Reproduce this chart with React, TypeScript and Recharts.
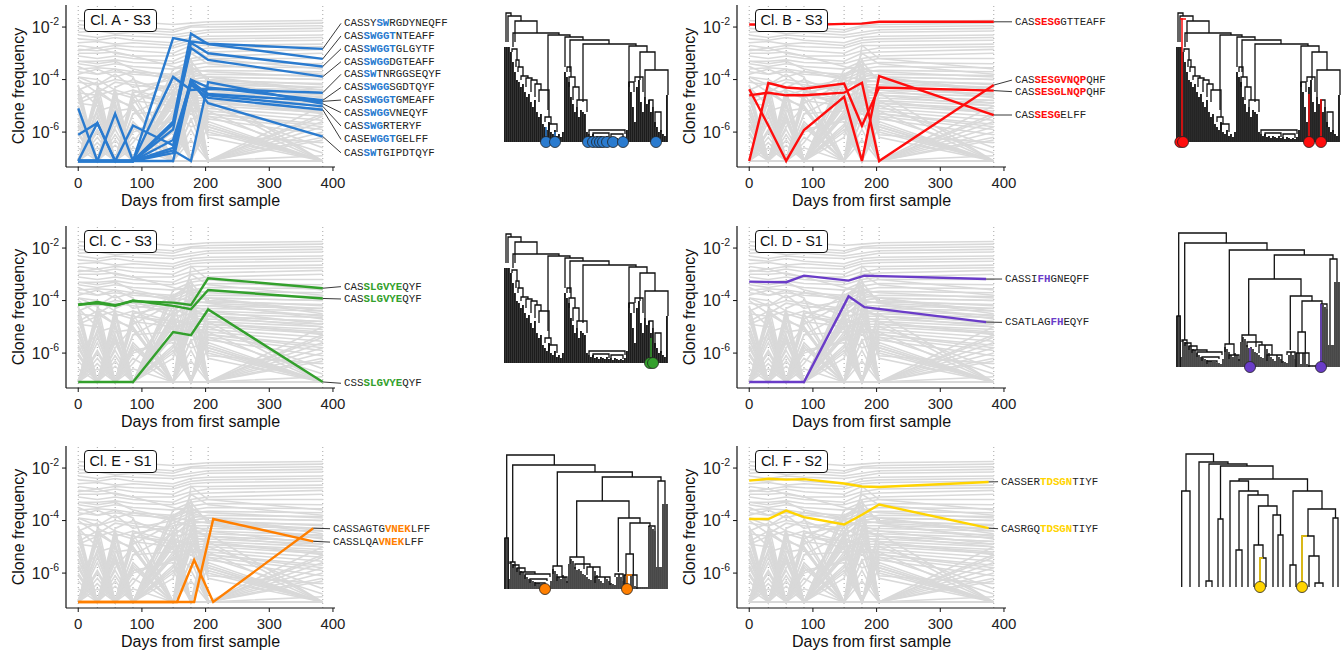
import {
  Bar,
  ComposedChart,
  Line,
  LineChart,
  ReferenceDot,
  ReferenceLine,
  Scatter,
  XAxis,
  YAxis,
} from "recharts";

const FONT = '"Liberation Sans", Arial, Helvetica, sans-serif';
const MONO = '"Liberation Mono", "DejaVu Sans Mono", monospace';

// sampling days used by the background repertoire
const sampleDays = [0, 30, 58, 86, 149, 177, 204, 384];
const xTicks = [0, 100, 200, 300, 400];
const yTicks = [-6, -4, -2];

// log10 clone frequency, F = below detection
const F = -7.1;

const backgroundClones = [
  [-1.75, -1.8, -1.75, -1.8, -1.9, -1.85, -1.8, -1.75],
  [-1.9, -2.0, -1.95, -2.0, -2.1, -1.95, -1.9, -1.85],
  [-2.05, -2.1, -2.0, -2.1, -2.2, -2.0, -2.0, -1.95],
  [-2.2, -2.15, -2.25, -2.2, -2.3, -2.2, -2.1, -2.05],
  [-2.3, -2.4, -2.3, -2.35, -2.4, -2.3, -2.2, -2.15],
  [-2.45, -2.5, -2.4, -2.5, -2.6, -2.4, -2.35, -2.3],
  [-2.6, -2.55, -2.65, -2.6, -2.7, -2.5, -2.45, -2.4],
  [-2.7, -2.8, -2.7, -2.75, -2.8, -2.6, -2.55, -2.5],
  [-2.85, -2.9, -2.8, -2.9, -3.0, -2.7, -2.7, -2.65],
  [-3.0, -3.0, -2.95, -3.1, -3.1, -2.9, -2.8, -2.75],
  [-3.1, -3.2, -3.1, -3.2, -3.3, -3.0, -2.95, -2.85],
  [-3.3, -3.3, -3.25, -3.35, -3.4, -3.2, -3.1, -3.0],
  [-3.4, -3.5, -3.4, -3.5, -3.6, -3.3, -3.2, -3.2],
  [-3.6, -3.55, -3.6, -3.7, -3.8, -3.45, -3.35, -3.4],
  [-3.7, -3.8, -3.7, -3.8, -3.9, -3.6, -3.5, -3.55],
  [-3.9, -4.2, -3.8, -4.3, -4.0, -3.7, -3.65, -3.7],
  [-4.0, -4.5, -4.1, -4.2, -4.4, -3.9, -3.8, -3.85],
  [-4.2, F, -4.3, -4.0, -4.6, -4.0, -3.9, -4.0],
  [-4.4, -4.1, F, -4.5, -4.2, -4.1, -4.05, -4.15],
  [-4.5, -4.6, -4.4, F, -4.5, -4.2, -4.2, -4.3],
  [F, -4.3, -4.6, -4.4, -4.8, -4.3, -4.3, -4.4],
  [-4.7, F, -4.5, -4.7, F, -4.4, -4.4, -4.55],
  [-4.8, -4.4, -4.9, F, -4.6, -4.5, -4.5, -4.65],
  [F, -4.7, F, -4.6, -4.9, -4.6, -4.6, -4.8],
  [-5.0, F, -4.8, -5.0, F, -4.7, -4.7, -4.9],
  [-4.9, -5.0, F, -4.8, -5.0, -4.8, -4.8, -5.0],
  [F, -5.2, -5.0, F, -4.7, -4.9, -4.9, -5.1],
  [-5.3, F, -5.2, -5.1, F, -5.0, -5.0, -5.25],
  [F, -5.4, F, -5.3, -5.2, -5.1, -5.1, -5.4],
  [-5.5, F, -5.3, F, -5.4, -5.2, -5.2, -5.55],
  [-5.8, F, -5.6, F, -5.9, F, -5.3, -5.7],
  [F, -5.9, F, -5.7, F, -5.5, -5.4, -5.9],
  [-6.0, F, F, -5.9, -5.6, F, -5.5, -6.1],
  [F, F, -6.1, F, -5.2, -5.8, -5.6, F],
  [F, -6.2, F, F, -4.9, -5.3, -5.7, F],
  [-6.3, F, -5.9, F, F, -4.8, -5.8, F],
  [F, F, F, -6.0, -5.5, -4.6, -5.9, F],
  [F, -5.6, F, -6.2, F, -5.0, -6.0, F],
  [-5.7, F, F, F, -6.0, -4.4, -6.1, -6.4],
  [F, F, -5.5, F, F, -4.2, -6.2, F],
  [F, F, F, F, -6.2, -3.9, F, -5.0],
  [F, -6.0, F, F, F, -3.6, F, -5.4],
  [F, F, F, -5.8, F, -3.4, F, -5.8],
  [F, F, -6.3, F, -5.8, -3.2, F, -6.2],
  [-6.1, F, F, F, F, F, F, -5.6],
  [F, F, F, F, -4.8, F, -4.5, F],
  [F, -6.4, F, F, -5.0, F, -4.8, F],
  [F, F, F, F, -4.6, F, -5.0, -6.6],
  [F, F, F, -6.4, -4.4, F, -5.2, F],
  [F, F, F, F, -5.4, F, -5.4, -6.8],
  [-4.6, F, -5.0, F, -4.2, -4.0, -3.9, -4.5],
  [F, -4.8, F, -4.9, -4.1, -3.8, -3.9, -4.0],
  [-4.3, -5.0, F, -4.7, -3.8, -3.6, -3.7, -3.9],
  [F, -4.5, -4.9, F, -3.6, -3.5, -4.0, -4.2],
  [-5.2, F, -4.4, F, -3.8, F, -4.2, -4.6],
  [F, F, -4.7, -5.1, F, -4.3, -4.6, -4.8],
  [-4.9, -4.6, F, -4.4, -5.1, F, -4.9, -5.2],
  [F, F, F, F, F, F, F, -5.3],
  [F, F, F, F, F, F, F, -6.0],
  [F, F, F, F, -3.9, -3.3, -4.1, -4.3],
  [-2.9, -2.8, -3.0, -3.1, -3.5, -3.7, -3.9, -4.4],
  [-3.5, -3.8, -3.6, -3.9, F, -4.4, -4.6, -5.0],
  [-5.5, F, F, F, F, -2.7, -3.2, -3.6],
  [F, F, F, -5.3, -4.5, -3.0, -3.4, -3.8],
  [F, -6.6, F, F, F, F, -5.8, F],
  [F, F, -6.5, F, F, -6.3, F, F],
  [-6.6, F, F, -6.6, F, F, F, F],
  [F, F, F, F, F, -5.9, F, -6.9],
  [-4.1, -4.2, -4.0, -4.1, -4.3, -4.6, -4.8, -5.3],
  [-3.8, -3.6, -3.9, -3.7, -4.0, -4.2, -4.4, -4.9],
  [-5.0, F, -5.4, F, F, F, F, F],
  [F, -5.1, F, -5.6, F, F, F, F],
  [-5.9, -5.3, F, F, F, -5.5, F, F],
  [F, F, -5.8, -5.0, F, F, F, F],
  [-4.4, F, F, F, -5.7, F, F, F],
  [F, -4.4, F, F, F, -5.1, F, -6.3],
  [F, F, -4.6, F, -5.3, -4.5, F, F],
  [F, F, F, -4.5, F, -4.9, F, F],
  [-3.9, -4.0, -4.4, -4.6, -4.8, -4.9, -5.3, -5.8],
  [-3.3, -3.4, -3.3, -3.6, -3.9, -4.0, -4.1, -4.7],
];

// Cl. A - S3
const cloneASeqs = [
  "CASSYSWRGDYNEQFF", "CASSWGGTNTEAFF", "CASSWGGTGLGYTF", "CASSWGGDGTEAFF",
  "CASSWTNRGGSEQYF", "CASSWGGSGDTQYF", "CASSWGGTGMEAFF", "CASSWGGVNEQYF",
  "CASSWGRTERYF", "CASEWGGTGELFF", "CASSWTGIPDTQYF",
];
const cloneAMotifs = ["SW", "SWGGT", "SWGGT", "SWGG", "SW", "SWGG", "SWGGT", "SWGG", "SWG", "WGGT", "SW"];
const cloneAFreqs = [
  [F, F, F, F, -2.42, -2.55, -2.63, -2.83],
  [F, F, F, F, -5.6, -2.25, -2.65, -3.21],
  [F, F, F, F, -5.9, -2.6, -3.0, -3.5],
  [F, F, F, F, -5.7, -2.8, -3.25, -3.89],
  [F, F, F, F, -3.9, -4.4, -4.35, -4.5],
  [-5.1, F, F, -5.75, -6.5, -4.0, -4.3, -4.79],
  [F, F, F, F, -6.3, -4.1, -4.55, -4.83],
  [F, F, -5.3, F, -6.7, F, -4.1, -4.92],
  [-6.1, -5.65, F, F, -6.8, -4.05, -4.6, -5.02],
  [F, F, F, F, -6.6, -4.2, -4.7, -5.15],
  [F, -5.65, F, F, F, -4.05, -4.9, -6.17],
];
const cloneASlots = [-1.86, -2.34, -2.83, -3.32, -3.8, -4.3, -4.78, -5.26, -5.77, -6.28, -6.79];

// Cl. B - S3
const cloneBSeqs = ["CASSESGGTTEAFF", "CASSESGVNQPQHF", "CASSESGLNQPQHF", "CASSESGELFF"];
const cloneBMotifs = ["SESG", "SESGVNQP", "SESGLNQP", "SESG"];
const cloneBFreqs = [
  [-1.9, -1.9, -1.95, -1.92, -1.88, -1.87, -1.8, -1.8],
  [-4.6, -4.5, -4.6, -4.6, -4.5, -4.12, F, -4.21],
  [F, -4.13, -4.3, -4.35, -4.15, -5.76, -4.3, -4.42],
  [-4.37, -5.75, F, -5.92, -4.66, F, -3.87, -5.35],
];
const cloneBSlots = [-1.8, -4.02, -4.46, -5.35];

// Cl. C - S3
const cloneCSeqs = ["CASSLGVYEQYF", "CASSLGVYEQYF", "CSSSLGVYEQYF"];
const cloneCMotifs = ["SLGVYE", "SLGVYE", "SLGVYE"];
const cloneCFreqs = [
  [-4.17, -4.05, -4.18, -4.02, -4.08, -4.17, -3.15, -3.53],
  [-4.15, -4.1, -4.2, -4.0, -4.2, -4.33, -3.6, -3.92],
  [F, F, F, F, -5.2, -5.32, -4.34, F],
];
const cloneCSlots = [-3.47, -3.94, -7.15];

// Cl. D - S1
const cloneDSeqs = ["CASSIFHGNEQFF", "CSATLAGFHEQYF"];
const cloneDMotifs = ["FH", "FH"];
const cloneDDays = [0, 58, 86, 156, 181, 372];
const cloneDFreqs = [
  [-3.28, -3.3, -3.05, -3.24, -3.05, -3.18],
  [F, F, F, -3.84, -4.25, -4.82],
];
const cloneDSlots = [-3.18, -4.83];

// Cl. E - S1
const cloneESeqs = ["CASSAGTGVNEKLFF", "CASSLQAVNEKLFF"];
const cloneEMotifs = ["VNEK", "VNEK"];
const cloneEDays = [0, 155, 182, 212, 369];
const cloneEFreqs = [
  [F, F, -5.5, F, -4.29],
  [F, F, F, -3.94, -4.79],
];
const cloneESlots = [-4.31, -4.82];

// Cl. F - S2
const cloneFSeqs = ["CASSERTDSGNTIYF", "CASRGQTDSGNTIYF"];
const cloneFMotifs = ["TDSGN", "TDSGN"];
const cloneFDays = [0, 30, 58, 86, 149, 177, 204, 376];
const cloneFFreqs = [
  [-2.48, -2.41, -2.44, -2.42, -2.59, -2.7, -2.72, -2.53],
  [-3.94, -3.94, -3.62, -3.87, -4.15, -3.78, -3.39, -4.29],
];
const cloneFSlots = [-2.52, -4.31];

// dendrograms: leaf stem heights (one leaf every 2 units) and merges [xLeft, xRight, height, leftChild, rightChild]
const treeS3Leaves = [
  95, 95, 95, 90, 80, 70, 62, 60, 55, 58, 50, 45, 48, 40, 35, 42, 30, 25, 28, 18,
  15, 12, 20, 10, 8, 12, 6, 8, 5, 10, 70, 65, 60, 45, 38, 30, 35, 25, 32, 30,
  28, 10, 8, 6, 8, 5, 6, 4, 6, 5, 4, 6, 4, 5, 3, 5, 4, 3, 4, 3,
  5, 12, 60, 50, 35, 20, 55, 62, 40, 30, 45, 38, 42, 30, 35, 20, 15, 10, 12, 8,
  6, 47,
];
const treeS3Links = [
  [1, 6, 129, 100, 126], [3, 16, 126, 100, 121], [10, 32, 121, 100, 109],
  [8, 54, 109, 95, 107], [43, 65, 107, 32, 105], [60, 78, 105, 75, 102],
  [65, 104, 102, 70, 98], [78, 131, 98, 40, 96], [124, 142, 96, 60, 90],
  [135, 150, 90, 62, 72], [140, 163, 72, 45, 47], [144, 148, 42, 38, 35],
  [150, 156, 30, 15, 10], [7, 12, 93, 90, 82], [11, 14, 82, 75, 75],
  [13, 18, 75, 70, 66], [16, 23, 66, 62, 64], [21, 27, 64, 55, 62],
  [26, 32, 62, 50, 58], [30, 36, 58, 45, 52], [34, 44, 52, 40, 25],
  [40, 46, 25, 20, 18], [44, 52, 18, 12, 10], [62, 66, 75, 70, 65],
  [64, 70, 65, 55, 55], [68, 74, 55, 42, 42], [72, 82, 42, 35, 30],
  [84, 120, 12, 8, 8], [88, 104, 9, 6, 5], [106, 118, 8, 5, 4],
  [124, 129, 60, 55, 50], [130, 138, 65, 60, 50],
];

const treeS1Leaves = [
  51, 51, 10, 27, 25, 24, 21, 20, 18, 17, 14, 12, 10, 9, 8, 7, 6, 6, 5, 5,
  4, 4, 3, 8, 20, 18, 15, 12, 10, 14, 12, 8, 25, 30, 28, 22, 19, 20, 18, 15,
  14, 12, 10, 9, 22, 18, 14, 10, 8, 6, 12, 10, 8, 6, 5, 4, 12, 15, 12, 8,
  14, 14, 3, 14, 14, 3, 2, 2, 2, 2, 2, 2, 63, 62, 60, 58, 22, 22, 22, 85,
  85, 85,
];
const treeS1Links = [
  [1.7, 49.3, 134, 51, 124], [0, 3.3, 51, 0, 0], [7.7, 90, 124, 27, 117],
  [52.3, 127.3, 117, 23, 112], [97.3, 156, 112, 88, 108], [153, 160, 108, 22, 85],
  [71.7, 124, 88, 32, 71], [113.3, 135, 71, 17, 66], [125, 145, 66, 35, 63],
  [121, 128.3, 35, 14, 14], [119, 132, 14, 0, 0], [5, 10, 27, 25, 24],
  [8, 14, 24, 21, 20], [12, 20, 21, 17, 17], [15, 30, 17, 14, 15],
  [20, 45, 15, 10, 12], [25, 42, 10, 6, 8], [30, 40, 6, 3, 4],
  [48, 57, 23, 15, 12], [52, 62, 12, 8, 6], [65, 79, 32, 25, 20],
  [70, 85, 25, 20, 22], [82, 95, 22, 14, 12], [90, 105, 12, 6, 4],
  [110, 118, 15, 12, 8], [144, 150, 63, 62, 58],
];

const treeS2Leaves: number[] = [];
const treeS2Links = [
  [5, 32.5, 133, 96, 125], [0.7, 9, 96, 0, 0], [18, 47, 125, 0, 123],
  [28, 66, 123, 6, 121], [25, 31, 6, 0, 0], [39.5, 92, 121, 68, 108],
  [37, 42, 68, 0, 0], [58, 126.5, 108, 106, 96], [49, 67.5, 106, 0, 96],
  [58, 77, 96, 37, 92], [55, 61, 37, 0, 0], [67, 87, 92, 0, 81],
  [77.5, 96, 81, 42, 72], [73, 82, 42, 0, 29], [79, 85, 29, 0, 0],
  [92, 99.5, 72, 0, 52], [97, 102, 52, 0, 0], [112, 141, 96, 22, 78],
  [109, 115, 22, 0, 0], [127, 154.5, 78, 51, 69], [121, 133, 51, 0, 31],
  [128, 138, 31, 0, 4], [134, 142, 4, 0, 0], [152, 157, 69, 0, 0],
];

// highlighted tips and the branches leading to them
const tipsA = [41, 50, 83, 88, 92, 95, 98, 102, 108, 118, 151];
const stemsA = [[[41, 0], [41, 15]], [[50, 0], [50, 10]]];
const tipsB = [3.3, 6, 132, 144];
const stemsB = [[[5, 0], [5, 124]], [[3, 123], [9, 123]], [[132, 0], [132, 48]], [[144, 0], [144, 43]]];
const tipsC = [145, 148];
const stemsC = [[[146, 0], [146, 25]]];
const tipsD = [73, 144];
const stemsD = [[[73, 0], [73, 19]], [[144, 0], [144, 63]]];
const tipsE = [40, 122];
const stemsE = [[[122, 0], [122, 14], [127, 14]]];
const tipsF = [79, 121];
const stemsF = [[[79, 0], [79, 29], [82, 29]], [[121, 0], [121, 51], [126, 51]]];

const panels = [
  { name: "Cl. A - S3", color: "#2a7bcf", left: 0, top: 0, seqs: cloneASeqs, motifs: cloneAMotifs,
    days: cloneAFreqs.map(() => sampleDays), freqs: cloneAFreqs, slots: cloneASlots, slotDay: 412.6 },
  { name: "Cl. B - S3", color: "#ff0d0d", left: 671, top: 0, seqs: cloneBSeqs, motifs: cloneBMotifs,
    days: cloneBFreqs.map(() => sampleDays), freqs: cloneBFreqs, slots: cloneBSlots, slotDay: 412.6 },
  { name: "Cl. C - S3", color: "#33a02c", left: 0, top: 220.5, seqs: cloneCSeqs, motifs: cloneCMotifs,
    days: cloneCFreqs.map(() => sampleDays), freqs: cloneCFreqs, slots: cloneCSlots, slotDay: 412.6 },
  { name: "Cl. D - S1", color: "#6a3cc8", left: 671, top: 220.5, seqs: cloneDSeqs, motifs: cloneDMotifs,
    days: cloneDFreqs.map(() => cloneDDays), freqs: cloneDFreqs, slots: cloneDSlots, slotDay: 397 },
  { name: "Cl. E - S1", color: "#ff7f00", left: 0, top: 441, seqs: cloneESeqs, motifs: cloneEMotifs,
    days: cloneEFreqs.map(() => cloneEDays), freqs: cloneEFreqs, slots: cloneESlots, slotDay: 395.4 },
  { name: "Cl. F - S2", color: "#ffd400", left: 671, top: 441, seqs: cloneFSeqs, motifs: cloneFMotifs,
    days: cloneFFreqs.map(() => cloneFDays), freqs: cloneFFreqs, slots: cloneFSlots, slotDay: 390.7 },
];

const trees = [
  { leaves: treeS3Leaves, links: treeS3Links, tips: tipsA, stems: stemsA, color: "#2a7bcf", stemW: 1.8, left: 499, top: 6 },
  { leaves: treeS3Leaves, links: treeS3Links, tips: tipsB, stems: stemsB, color: "#ff0d0d", stemW: 1.8, left: 1171, top: 6 },
  { leaves: treeS3Leaves, links: treeS3Links, tips: tipsC, stems: stemsC, color: "#33a02c", stemW: 1.8, left: 499, top: 227 },
  { leaves: treeS1Leaves, links: treeS1Links, tips: tipsD, stems: stemsD, color: "#6a3cc8", stemW: 1.5, left: 1171, top: 231 },
  { leaves: treeS1Leaves, links: treeS1Links, tips: tipsE, stems: stemsE, color: "#ff7f00", stemW: 1.5, left: 499, top: 453 },
  { leaves: treeS2Leaves, links: treeS2Links, tips: tipsF, stems: stemsF, color: "#ffd400", stemW: 1.5, left: 1175, top: 451 },
];

const toPoints = (days: number[], vals: number[]) => days.map((x, i) => ({ x, y: vals[i] }));

function PowerTick(props: any) {
  const { x, y, payload } = props;
  return (
    <text x={x} y={y} textAnchor="end" fontFamily={FONT} fontSize={16} fill="#222">
      <tspan dy={5.5}>10</tspan>
      <tspan dy={-8} fontSize={10.5}>{payload.value}</tspan>
    </text>
  );
}

function SeqLabel({ cx, cy, seq, motif, color }: any) {
  const i = seq.indexOf(motif);
  return (
    <text x={cx + 3} y={cy} dominantBaseline="central" fontFamily={MONO} fontSize={10.8} fill="#222">
      <tspan>{seq.slice(0, i)}</tspan>
      <tspan fill={color} fontWeight="bold">{motif}</tspan>
      <tspan>{seq.slice(i + motif.length)}</tspan>
    </text>
  );
}

function ClonePanel({ p }: any) {
  return (
    <div style={{ position: "absolute", left: p.left, top: p.top }}>
      <LineChart width={450} height={210} margin={{ top: 5, right: 115, bottom: 3, left: 6 }}>
        <XAxis
          type="number"
          dataKey="x"
          domain={[-19.2, 403.2]}
          ticks={xTicks}
          interval={0}
          height={40}
          tickSize={4}
          tickMargin={6}
          tick={{ fontSize: 15, fill: "#222", fontFamily: FONT }}
          axisLine={{ stroke: "#111", strokeWidth: 1.2 }}
          tickLine={{ stroke: "#111" }}
          label={{
            content: (lp: any) => (
              <text
                x={lp.viewBox.x + lp.viewBox.width / 2}
                y={lp.viewBox.y + 33}
                textAnchor="middle"
                dominantBaseline="central"
                fontFamily={FONT}
                fontSize={16}
                fill="#111"
              >
                Days from first sample
              </text>
            ),
          }}
        />
        <YAxis
          type="number"
          domain={[-7.33, -1.16]}
          ticks={yTicks}
          interval={0}
          width={60}
          tickSize={4}
          tickMargin={3}
          tick={<PowerTick />}
          axisLine={{ stroke: "#111", strokeWidth: 1.2 }}
          tickLine={{ stroke: "#111" }}
          label={{
            content: (lp: any) => {
              const cx = lp.viewBox.x + 12;
              const cy = lp.viewBox.y + lp.viewBox.height / 2;
              return (
                <text
                  x={cx}
                  y={cy}
                  transform={`rotate(-90 ${cx} ${cy})`}
                  textAnchor="middle"
                  dominantBaseline="central"
                  fontFamily={FONT}
                  fontSize={16}
                  fill="#111"
                >
                  Clone frequency
                </text>
              );
            },
          }}
        />
        {sampleDays.map((d) => (
          <ReferenceLine key={`d${d}`} x={d} stroke="#9a9a9a" strokeWidth={0.9} strokeDasharray="1 3" />
        ))}
        {backgroundClones.map((vals, i) => (
          <Line
            key={`bg${i}`}
            data={toPoints(sampleDays, vals)}
            dataKey="y"
            stroke="#d9d9d9"
            strokeWidth={1.6}
            dot={false}
            activeDot={false}
            isAnimationActive={false}
          />
        ))}
        {p.freqs.map((vals: number[], i: number) => (
          <Line
            key={`cl${i}`}
            data={toPoints(p.days[i], vals)}
            dataKey="y"
            stroke={p.color}
            strokeWidth={2.4}
            dot={false}
            activeDot={false}
            isAnimationActive={false}
          />
        ))}
        {p.freqs.map((vals: number[], i: number) => (
          <ReferenceLine
            key={`cn${i}`}
            segment={[
              { x: p.days[i][p.days[i].length - 1], y: vals[vals.length - 1] },
              { x: p.slotDay, y: p.slots[i] },
            ]}
            stroke="#222"
            strokeWidth={0.9}
            ifOverflow="visible"
          />
        ))}
        {p.seqs.map((seq: string, i: number) => (
          <ReferenceDot
            key={`lb${i}`}
            x={p.slotDay}
            y={p.slots[i]}
            r={1}
            ifOverflow="visible"
            shape={(sp: any) => (
              <SeqLabel cx={sp.cx} cy={sp.cy} seq={seq} motif={p.motifs[i]} color={p.color} />
            )}
          />
        ))}
      </LineChart>
      <div
        style={{
          position: "absolute",
          left: 84,
          top: 9,
          width: 71,
          height: 21,
          border: "1px solid #111",
          borderRadius: 4,
          background: "#fff",
          fontFamily: FONT,
          fontSize: 14.5,
          lineHeight: "21px",
          textAlign: "center",
          color: "#111",
        }}
      >
        {p.name}
      </div>
    </div>
  );
}

function Dendrogram({ t }: any) {
  const leafData = t.leaves.map((h: number, i: number) => ({ x: i * 2, h }));
  return (
    <div style={{ position: "absolute", left: t.left, top: t.top }}>
      <ComposedChart width={175} height={144} data={leafData} margin={{ top: 2, right: 6, bottom: 8, left: 6 }}>
        <XAxis type="number" dataKey="x" domain={[0, 163]} hide />
        <YAxis type="number" domain={[0, 134]} hide />
        <Bar
          dataKey="h"
          fill="#111"
          barSize={2}
          isAnimationActive={false}
          shape={(bp: any) => (
            <rect
              x={bp.x + bp.width / 2 - t.stemW / 2}
              y={bp.y}
              width={t.stemW}
              height={Math.max(bp.height, 0)}
              fill="#111"
            />
          )}
        />
        {t.links.map(([xl, xr, h, hl, hr]: number[], i: number) => (
          <Line
            key={`k${i}`}
            data={[
              { x: xl, y: hl },
              { x: xl, y: h },
              { x: xr, y: h },
              { x: xr, y: hr },
            ]}
            dataKey="y"
            stroke="#111"
            strokeWidth={1.3}
            dot={false}
            activeDot={false}
            isAnimationActive={false}
          />
        ))}
        {t.stems.map((pts: number[][], i: number) => (
          <Line
            key={`s${i}`}
            data={pts.map(([x, y]) => ({ x, y }))}
            dataKey="y"
            stroke={t.color}
            strokeWidth={1.5}
            dot={false}
            activeDot={false}
            isAnimationActive={false}
          />
        ))}
        <Scatter
          data={t.tips.map((x: number) => ({ x, y: 0 }))}
          dataKey="y"
          isAnimationActive={false}
          shape={(sp: any) => (
            <circle cx={sp.cx} cy={sp.cy} r={5.5} fill={t.color} stroke="#222" strokeWidth={0.8} />
          )}
        />
      </ComposedChart>
    </div>
  );
}

export default function App() {
  return (
    <div
      style={{
        position: "absolute",
        left: 0,
        top: 0,
        width: 1343,
        height: 656,
        background: "#fff",
        overflow: "hidden",
      }}
    >
      {panels.map((p) => (
        <ClonePanel key={p.name} p={p} />
      ))}
      {trees.map((t, i) => (
        <Dendrogram key={`t${i}`} t={t} />
      ))}
    </div>
  );
}
